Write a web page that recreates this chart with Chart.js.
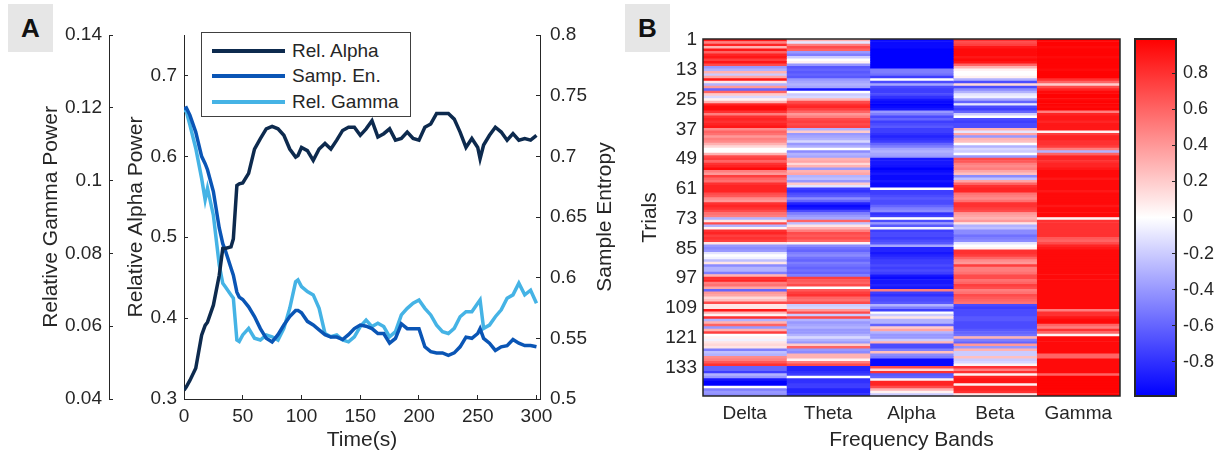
<!DOCTYPE html>
<html>
<head>
<meta charset="utf-8">
<script src="https://cdn.jsdelivr.net/npm/chart.js@4.4.1/dist/chart.umd.min.js"></script>
<style>
  body { margin: 0; width: 1221px; height: 455px; background: #fff; overflow: hidden; position: relative;
         font-family: 'Liberation Sans', Arial, sans-serif; color: #262626; }
  .box { position: absolute; }
  .tag { position: absolute; background: #e6e6e6; font-weight: bold; font-size: 26px; text-align: center; color: #111; }
  #legendA { position: absolute; left: 201px; top: 32px; width: 210px; height: 85px; border: 1px solid #404040;
             box-sizing: border-box; background: #fff; }
  .item { position: absolute; left: 0; width: 100%; height: 26px; line-height: 26px; font-size: 19px; white-space: nowrap; }
  .swatch { position: absolute; left: 10px; top: 11px; width: 73px; height: 4px; }
  .item span { position: absolute; left: 90px; top: 0; }
</style>
</head>
<body>
<div class="tag" style="left:8px;top:4px;width:45px;height:48px;line-height:48px;">A</div>
<div class="tag" style="left:625px;top:4px;width:45px;height:48px;line-height:48px;">B</div>
<div class="box" style="left:0;top:0;width:620px;height:455px;"><canvas id="lines"></canvas></div>
<div class="box" style="left:620px;top:0;width:508px;height:455px;"><canvas id="heat"></canvas></div>
<div class="box" style="left:1128px;top:0;width:93px;height:455px;"><canvas id="cbar"></canvas></div>
<div id="legendA"></div>
<script>
// ---- Panel A: tiempo (s) y las tres series ----
const timeSec = [0,2,5,10,15,18,20,25,30,33,35,40,42,45,47,
  50,55,60,65,70,75,80,85,90,95,97,
  100,105,110,115,120,125,130,135,140,145,150,155,160,165,170,175,180,185,190,195,200,
  205,210,215,220,225,230,235,240,245,250,252,
  255,260,265,270,275,280,285,290,295,300];

const relAlpha = [0.311,0.315,0.323,0.338,0.379,0.391,0.395,0.416,0.453,0.486,0.486,0.488,0.498,0.564,0.566,
  0.567,0.579,0.609,0.622,0.634,0.637,0.634,0.626,0.609,0.599,0.601,
  0.611,0.607,0.595,0.609,0.616,0.609,0.620,0.632,0.636,0.636,0.626,0.634,0.644,0.624,0.628,0.634,0.620,0.622,0.630,0.622,0.620,
  0.636,0.640,0.653,0.653,0.653,0.646,0.630,0.611,0.622,0.611,0.597,
  0.614,0.626,0.636,0.630,0.620,0.628,0.620,0.622,0.620,0.626];

const sampEn = [0.739,0.740,0.734,0.720,0.700,0.694,0.689,0.671,0.641,0.628,0.623,0.608,0.602,0.588,0.584,
  0.582,0.576,0.568,0.558,0.550,0.547,0.553,0.561,0.568,0.573,0.573,
  0.571,0.564,0.561,0.557,0.553,0.551,0.551,0.549,0.553,0.558,0.561,0.560,0.558,0.554,0.554,0.546,0.550,0.562,0.558,0.558,0.558,
  0.543,0.539,0.538,0.538,0.536,0.538,0.543,0.551,0.550,0.554,0.558,
  0.550,0.546,0.540,0.543,0.544,0.549,0.546,0.544,0.544,0.543];

const relGamma = [0.1194,0.1190,0.1153,0.1089,0.1006,0.0947,0.0979,0.0905,0.0768,0.0718,0.0709,0.0686,0.0677,0.0562,0.0558,
  0.0576,0.0594,0.0567,0.0562,0.0576,0.0571,0.0562,0.0594,0.0649,0.0722,0.0727,
  0.0709,0.0695,0.0686,0.0649,0.0580,0.0571,0.0576,0.0562,0.0557,0.0571,0.0599,0.0617,0.0599,0.0608,0.0599,0.0571,0.0585,0.0631,0.0649,0.0663,0.0672,
  0.0649,0.0631,0.0603,0.0585,0.0580,0.0594,0.0626,0.0640,0.0640,0.0663,0.0672,
  0.0594,0.0603,0.0626,0.0645,0.0677,0.0686,0.0718,0.0686,0.0699,0.0663];

const timeTicks = [0,50,100,150,200,250,300];
const alphaTicks = [0.3,0.4,0.5,0.6,0.7];
const gammaTicks = [0.04,0.06,0.08,0.1,0.12,0.14];
const entropyTicks = [0.5,0.55,0.6,0.65,0.7,0.75,0.8];

// ---- Panel B: correlación por ensayo y banda ----
const bands = ['Delta','Theta','Alpha','Beta','Gamma'];
const trialTicks = [1,13,25,37,49,61,73,85,97,109,121,133];
const cbarTicks = [-0.8,-0.6,-0.4,-0.2,0,0.2,0.4,0.6,0.8];
const cbMin = -0.99, cbMax = 0.99;

const deltaVals = [
  0.9,0.5,0.85,0.3,0.9,0.6,0.85,0.9,0.75,0.9,0.7,-0.4,-0.3,0.3,-0.2,0.35,0.9,0.1,-0.3,0.4,
  -0.6,0.6,0.2,-0.15,0.05,0.3,0.85,0.95,0.95,0.8,0.5,0.8,0.85,0.8,0.85,0.9,0.45,
  0.6,0.55,0.4,0.5,0.45,0.3,0.15,0.0,0.0,0.3,0.7,0.75,0.6,0.8,0.85,0.95,0.5,0.4,0.75,
  0.6,0.55,0.8,0.85,0.85,0.85,0.7,0.65,0.45,0.4,0.8,0.85,0.8,0.7,0.55,0.5,
  -0.3,0.1,0.7,-0.3,0.05,0.8,0.85,0.75,0.8,0.75,0.1,-0.4,-0.45,-0.4,-0.1,0.0,-0.05,-0.25,
  0.1,-0.45,-0.3,-0.3,-0.5,0.3,0.8,0.85,0.5,0.55,0.35,-0.6,0.4,0.35,0.15,0.25,0.7,0.1,
  0.1,0.9,0.3,0.05,0.8,-0.3,0.3,0.6,-0.4,0.3,0.75,0.0,0.05,-0.05,0.1,0.15,0.1,-0.5,
  -0.25,-0.3,0.45,0.5,0.65,0.8,-0.6,-0.6,-0.75,-0.3,-0.4,-0.9,-1,-1,0.0,-0.5,-0.4,-0.45];

const thetaVals = [
  0.3,-0.1,0.5,0.7,0.6,-0.4,-0.5,-0.2,0.0,0.05,-0.4,-0.65,-0.6,-0.65,-0.6,-0.65,-0.4,-0.35,-0.3,-0.35,
  -0.9,0.0,-0.2,-0.15,0.3,0.7,0.8,0.85,0.75,0.6,0.4,0.5,0.7,0.75,0.7,0.75,-0.3,
  0.2,-0.4,-0.35,-0.3,-0.15,-0.4,-0.3,0.0,-0.45,-0.3,-0.35,0.3,0.35,0.15,0.3,-0.4,0.3,0.35,
  -0.3,-0.25,-0.4,0.2,-0.1,-0.75,-0.8,-0.7,-0.65,-0.45,-0.6,-0.85,-0.95,-0.9,-0.7,-0.5,-0.4,
  -0.35,0.6,-0.25,0.1,0.3,0.5,0.7,0.65,0.7,0.6,0.05,-0.45,-0.55,-0.6,-0.5,-0.45,-0.55,-0.6,
  -0.5,-0.55,-0.6,-0.55,-0.6,-0.5,0.75,0.65,0.6,0.7,0.0,0.65,0.75,0.8,0.6,0.55,0.7,-0.2,
  -0.15,0.4,0.7,-0.2,0.7,-0.3,-0.4,-0.35,-0.3,-0.4,-0.4,-0.3,-0.15,-0.3,-0.4,0.2,0.6,-0.4,
  -0.45,0.3,0.3,0.05,0.5,0.7,-0.85,-0.85,-0.8,-0.75,0.0,-0.8,-0.8,-0.75,-0.75,-0.85,-0.85,-0.8];

const alphaVals = [
  -0.95,-0.95,-0.95,-0.95,-1,-1,-1,-1,-1,-1,-1,-1,-0.5,-0.5,-0.55,-0.75,0.0,-0.7,-0.35,-0.7,
  -0.75,-0.75,-0.7,-0.8,-0.9,-0.95,-1,-0.95,-0.9,-0.4,-0.5,-0.7,-0.6,-0.75,-0.7,-0.65,-0.75,
  -0.75,-0.8,-0.85,-0.8,-0.75,-0.6,-0.5,-0.35,-0.3,-0.35,-0.4,-0.9,-0.9,-0.9,-0.92,-1,-0.95,-0.9,
  -0.95,-0.95,-0.9,-0.95,-0.95,0.0,-0.75,-0.75,-0.7,-0.65,-0.7,-0.7,-0.6,-0.5,-0.45,-0.8,-0.75,
  0.0,-0.7,-0.4,-0.65,-0.05,-0.75,-0.7,-0.7,-0.75,-0.7,-0.65,-0.35,-0.85,-0.85,-0.9,-0.85,-0.8,-0.75,
  -0.75,-0.7,-0.75,-0.7,-0.75,-0.9,-0.95,-0.9,-0.9,-0.85,-0.9,0.5,-0.75,-0.8,-0.7,-0.7,-0.65,-0.3,
  -0.5,-0.75,0.0,-0.2,0.1,-0.3,-0.3,-0.6,0.2,0.35,-0.3,-0.4,-0.4,-0.2,0.3,-0.7,-0.7,-0.5,
  0.25,-0.45,-0.5,-0.95,-0.95,-0.95,0.7,0.15,0.8,-0.65,-0.6,0.05,0.85,0.85,0.7,0.3,0.05,-0.2];

const betaVals = [
  0.8,0.7,0.75,0.9,0.95,0.95,0.95,0.9,0.95,0.9,0.6,0.3,0.05,0.0,0.0,0.05,-0.3,-0.7,0.15,-0.7,
  -0.45,-0.3,-0.1,-0.05,-0.35,-0.6,-0.1,-0.7,-0.75,-0.6,-0.2,0.0,-0.7,-0.75,-0.7,-0.7,0.3,
  -0.1,0.35,-0.4,0.3,0.25,0.0,-0.3,-0.15,-0.2,0.0,-0.4,0.7,0.65,0.5,0.45,0.5,0.35,0.25,
  -0.45,-0.25,0.35,0.6,0.8,0.85,0.85,0.55,0.5,0.45,0.55,0.8,0.8,0.75,0.7,0.4,0.35,
  0.3,0.4,0.1,-0.3,-0.25,-0.45,-0.45,-0.55,-0.5,-0.45,-0.1,0.0,0.05,0.8,0.8,0.75,0.6,0.45,
  0.4,0.75,0.5,0.5,0.55,0.7,0.7,0.55,0.6,0.75,0.7,0.5,0.55,0.7,0.65,0.6,0.55,-0.7,
  -0.75,-0.7,-0.7,-0.7,-0.65,-0.65,-0.7,-0.7,-0.7,-0.65,-0.6,-0.55,0.3,-0.5,-0.6,0.4,-0.4,0.3,
  -0.2,-0.2,0.25,-0.2,-0.15,0.05,0.8,0.5,0.8,0.05,0.85,0.9,0.9,0.05,0.85,0.85,0.8,0.1];

const gammaVals = [
  0.98,0.98,0.98,0.95,0.98,0.98,0.98,0.95,0.98,0.98,0.98,0.98,0.95,0.98,0.98,0.98,0.8,0.6,0.2,0.7,
  0.85,0.95,0.98,0.98,0.95,0.98,0.98,0.95,0.98,0.5,0.85,0.9,0.9,0.85,0.9,0.9,0.9,
  0.05,0.75,0.85,0.85,0.8,0.8,0.75,0.5,-0.3,0.6,0.85,0.85,0.8,0.85,0.85,0.9,0.95,0.95,
  0.95,0.9,0.95,0.95,0.95,0.95,0.9,0.95,0.95,0.95,0.95,0.95,0.9,0.95,0.95,0.95,0.95,
  0.05,0.8,0.8,0.8,0.8,0.8,0.8,0.8,0.65,0.6,0.7,0.85,0.9,0.95,0.95,0.95,0.95,0.95,
  0.95,0.95,0.95,0.95,0.95,0.95,0.95,0.95,0.95,0.95,0.95,0.95,0.95,0.95,0.95,0.95,0.95,0.95,
  0.95,0.5,0.8,0.8,0.9,0.95,0.95,0.6,0.5,0.8,0.6,0.05,0.95,0.95,0.95,0.95,0.95,0.95,
  0.95,0.6,0.6,0.95,0.95,0.95,0.95,0.95,0.95,0.6,0.98,0.98,0.98,0.98,0.98,0.98,0.98,0.98];

const bandValues = [deltaVals, thetaVals, alphaVals, betaVals, gammaVals];

// ---- estilos ----
const FAMILY = "'Liberation Sans', Arial, sans-serif";
const ink = '#262626';
const tickFont = { family: FAMILY, size: 19 };
const labelFont = { family: FAMILY, size: 21 };
Chart.defaults.font.family = FAMILY;
Chart.defaults.color = ink;

const colAlpha = '#0d2a4e', colEn = '#0a55b5', colGamma = '#45b3e5';

// azul - blanco - rojo
function toColor(v) {
  let t = Math.max(-1, Math.min(1, v / cbMax));
  if (t >= 0) {
    const c = Math.round(255 * (1 - t));
    return `rgb(255,${c},${c})`;
  }
  const c = Math.round(255 * (1 + t));
  return `rgb(${c},${c},255)`;
}

function fixedTicks(list) {
  return scale => { scale.ticks = list.map(v => ({ value: v })); };
}

const axisGrid = { display: true, drawOnChartArea: false, drawTicks: true, tickLength: -4, color: ink };
const axisBorder = { display: true, color: ink, width: 1 };
const noGrid = { display: false, drawTicks: false };

// titulo del eje derecho, leido de abajo hacia arriba
const rightTitle = {
  id: 'rightTitle',
  afterDraw(chart, args, opts) {
    const s = chart.scales[opts.axis];
    const ctx = chart.ctx;
    ctx.save();
    ctx.translate(opts.x, (s.top + s.bottom) / 2);
    ctx.rotate(-Math.PI / 2);
    ctx.font = `${labelFont.size}px ${FAMILY}`;
    ctx.fillStyle = ink;
    ctx.textAlign = 'center';
    ctx.textBaseline = 'middle';
    ctx.fillText(opts.text, 0, 0);
    ctx.restore();
  }
};

const frame = {
  id: 'frame',
  afterDraw(chart, args, opts) {
    const a = chart.chartArea;
    const ctx = chart.ctx;
    ctx.save();
    ctx.strokeStyle = ink;
    ctx.lineWidth = opts.width;
    ctx.strokeRect(a.left, a.top, a.right - a.left, a.bottom - a.top);
    ctx.restore();
  }
};

function pts(ys) { return timeSec.map((t, i) => ({ x: t, y: ys[i] })); }

const lineChart = new Chart(document.getElementById('lines'), {
  type: 'line',
  data: {
    datasets: [
      { label: 'Rel. Alpha', data: pts(relAlpha), yAxisID: 'yAlpha', borderColor: colAlpha },
      { label: 'Samp. En.', data: pts(sampEn), yAxisID: 'yEnt', borderColor: colEn },
      { label: 'Rel. Gamma', data: pts(relGamma), yAxisID: 'yGamma', borderColor: colGamma }
    ]
  },
  options: {
    responsive: true,
    maintainAspectRatio: false,
    animation: false,
    layout: { padding: { top: 35, left: 0, right: 0, bottom: 0 } },
    elements: { line: { borderWidth: 3.5, tension: 0 }, point: { radius: 0 } },
    plugins: {
      legend: { display: false },
      tooltip: { enabled: false },
      rightTitle: { axis: 'yEnt', x: 605, text: 'Sample Entropy' }
    },
    scales: {
      x: {
        type: 'linear', min: 0, max: 303,
        afterBuildTicks: fixedTicks(timeTicks),
        afterFit: s => { s.height = 56; },
        ticks: { font: tickFont, color: ink, padding: 10, maxRotation: 0, autoSkip: false, callback: v => String(v) },
        grid: axisGrid, border: axisBorder,
        title: { display: true, text: 'Time(s)', font: labelFont, color: ink, padding: { top: 0, bottom: 2 } }
      },
      yAlpha: {
        type: 'linear', position: 'left', weight: 0, min: 0.3, max: 0.75,
        afterBuildTicks: fixedTicks(alphaTicks),
        afterFit: s => { s.width = 75; },
        ticks: { font: tickFont, color: ink, padding: 11, callback: v => String(v) },
        grid: axisGrid, border: axisBorder,
        title: { display: true, text: 'Relative Alpha Power', font: labelFont, color: ink, padding: { top: 15, bottom: 0 } }
      },
      yGamma: {
        type: 'linear', position: 'left', weight: 1, min: 0.04, max: 0.14,
        afterBuildTicks: fixedTicks(gammaTicks),
        afterFit: s => { s.width = 109; },
        ticks: { font: tickFont, color: ink, padding: 11, callback: v => String(v) },
        grid: axisGrid, border: axisBorder,
        title: { display: true, text: 'Relative Gamma Power', font: labelFont, color: ink, padding: { top: 39, bottom: 0 } }
      },
      yEnt: {
        type: 'linear', position: 'right', min: 0.5, max: 0.8,
        afterBuildTicks: fixedTicks(entropyTicks),
        afterFit: s => { s.width = 80; },
        ticks: { font: tickFont, color: ink, padding: 14, callback: v => String(v) },
        grid: axisGrid, border: axisBorder
      }
    }
  },
  plugins: [rightTitle]
});

// leyenda dentro del panel A
const legendBox = document.getElementById('legendA');
lineChart.data.datasets.forEach((ds, i) => {
  const row = document.createElement('div');
  row.className = 'item';
  row.style.top = (4.5 + i * 25.5) + 'px';
  row.innerHTML = `<div class="swatch" style="background:${ds.borderColor}"></div><span>${ds.label}</span>`;
  legendBox.appendChild(row);
});

// ---- mapa de calor ----
const trials = deltaVals.map((v, i) => i + 1);

new Chart(document.getElementById('heat'), {
  type: 'bar',
  data: {
    labels: bands,
    datasets: bands.map((b, k) => ({
      label: b,
      data: trials.map(n => ({ x: b, y: [n - 0.5, n + 0.5] })),
      backgroundColor: bandValues[k].map(toColor),
      borderWidth: 0,
      grouped: false,
      barPercentage: 1,
      categoryPercentage: 1
    }))
  },
  options: {
    responsive: true,
    maintainAspectRatio: false,
    animation: false,
    layout: { padding: { top: 39, left: 0, right: 8, bottom: 0 } },
    plugins: { legend: { display: false }, tooltip: { enabled: false }, frame: { width: 1.5 } },
    scales: {
      x: {
        afterFit: s => { s.height = 59; },
        ticks: { font: tickFont, color: ink, padding: 6 },
        grid: noGrid, border: { display: false },
        title: { display: true, text: 'Frequency Bands', font: labelFont, color: ink, padding: { top: 0, bottom: 2 } }
      },
      y: {
        type: 'linear', reverse: true, min: 0.5, max: trials.length + 0.5,
        afterBuildTicks: fixedTicks(trialTicks),
        afterFit: s => { s.width = 83; },
        ticks: { font: tickFont, color: ink, padding: 6, autoSkip: false, callback: v => String(v) },
        grid: noGrid, border: { display: false },
        title: { display: true, text: 'Trials', font: labelFont, color: ink, padding: { top: 18, bottom: 0 } }
      }
    }
  },
  plugins: [frame]
});

// ---- barra de color ----
new Chart(document.getElementById('cbar'), {
  type: 'bar',
  data: {
    labels: ['cb'],
    datasets: [{
      data: [{ x: 'cb', y: [cbMin, cbMax] }],
      backgroundColor(ctx) {
        const area = ctx.chart.chartArea;
        const y = ctx.chart.scales.y;
        if (!area || !y) return '#fff';
        const top = y.getPixelForValue(cbMax), bottom = y.getPixelForValue(cbMin);
        if (!isFinite(top) || !isFinite(bottom)) return '#fff';
        const g = ctx.chart.ctx.createLinearGradient(0, top, 0, bottom);
        g.addColorStop(0, toColor(cbMax));
        g.addColorStop(0.5, toColor(0));
        g.addColorStop(1, toColor(cbMin));
        return g;
      },
      borderWidth: 0,
      barPercentage: 1,
      categoryPercentage: 1
    }]
  },
  options: {
    responsive: true,
    maintainAspectRatio: false,
    animation: false,
    layout: { padding: { top: 39, left: 7, right: 0, bottom: 59 } },
    plugins: { legend: { display: false }, tooltip: { enabled: false }, frame: { width: 2 } },
    scales: {
      x: { display: false },
      y: {
        type: 'linear', position: 'right', min: cbMin, max: cbMax,
        afterBuildTicks: fixedTicks(cbarTicks),
        afterFit: s => { s.width = 45; },
        ticks: { font: { family: FAMILY, size: 18 }, color: ink, padding: 11, callback: v => String(v) },
        grid: { display: true, drawOnChartArea: false, drawTicks: true, tickLength: -4, color: ink, z: 1 },
        border: { display: false }
      }
    }
  },
  plugins: [frame]
});
</script>
</body>
</html>
